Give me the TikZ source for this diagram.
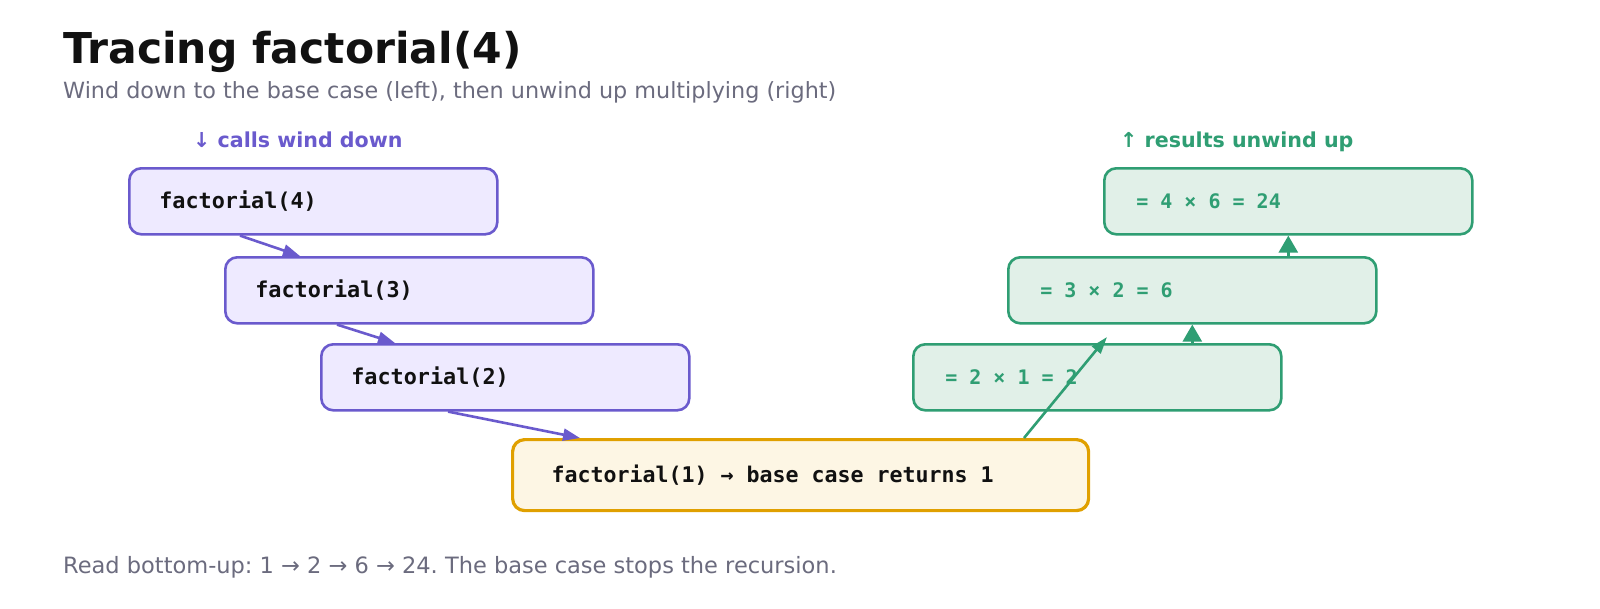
\documentclass[tikz,border=0pt]{standalone}
\usepackage{fontspec}
\setmainfont{DejaVu Sans}
\newfontfamily\mono{DejaVu Sans Mono}
\usetikzlibrary{arrows.meta}
\newcommand\msp{\hskip0.6021em\relax}
\definecolor{purp}{HTML}{6A5ACD}
\definecolor{purpfill}{HTML}{EEEAFF}
\definecolor{grn}{HTML}{2F9E73}
\definecolor{grnfill}{HTML}{E1F0E8}
\definecolor{gold}{HTML}{E0A000}
\definecolor{goldfill}{HTML}{FDF6E4}
\definecolor{ink}{HTML}{111111}
\definecolor{muted}{HTML}{6B6B7E}
\tikzset{
  box/.style={rectangle, rounded corners=12pt, line width=2.6pt, anchor=north west,
    minimum height=66pt, text width=308pt, inner xsep=30pt, inner ysep=0pt, align=left},
  callbox/.style={box, draw=purp, fill=purpfill, text=ink, font=\mono\bfseries\fontsize{21.8}{24}\selectfont},
  retbox/.style={box, draw=grn, fill=grnfill, text=grn, text width=304pt, inner xsep=32pt, font=\mono\bfseries\fontsize{20}{24}\selectfont},
  basebox/.style={box, draw=gold, fill=goldfill, text=ink, line width=3.2pt, minimum height=71pt,
    text width=498pt, inner xsep=39pt, font=\mono\bfseries\fontsize{21.6}{24}\selectfont},
  callarrow/.style={draw=purp, fill=purp, line width=2.6pt, -{Triangle[length=17pt,width=12pt]}},
  retarrow/.style={draw=grn, fill=grn, line width=2.6pt, -{Triangle[length=17pt,width=11pt]}},
  retarrowv/.style={draw=grn, fill=grn, line width=2.6pt, -{Triangle[length=17pt,width=19pt]}},
  heading/.style={anchor=base west, inner sep=0pt, font=\bfseries\fontsize{20.6}{24}\selectfont},
}
\begin{document}
\frenchspacing
\begin{tikzpicture}[x=1pt,y=-1pt]
\useasboundingbox[fill=white] (0,0) rectangle (1600,608);
\node[anchor=base west, inner sep=0pt, text=ink, font=\bfseries\fontsize{42.5}{48}\selectfont] (title) at (63,63) {Tracing factorial(4)};
\node[anchor=base west, inner sep=0pt, text=muted, font=\fontsize{22.3}{26}\selectfont] (sub) at (63,98) {Wind down to the base case (left), then unwind up multiplying (right)};
\node[heading, text=purp] (lcalls) at (193,147) {↓ calls wind down};
\node[heading, text=grn] (lres) at (1120,147) {↑ results unwind up};

\node[callbox] (f4) at (128,167) {factorial(4)};
\node[callbox] (f3) at (224,256) {factorial(3)};
\node[callbox] (f2) at (320,343) {factorial(2)};
\node[basebox] (base) at (511,438) {factorial(1)\msp →\msp base\msp case\msp returns\msp 1};

\node[retbox] (g4) at (1103,167) {=\msp 4\msp ×\msp 6\msp =\msp 24};
\node[retbox] (g3) at (1007,256) {=\msp 3\msp ×\msp 2\msp =\msp 6};
\node[retbox] (g2) at (912,343) {=\msp 2\msp ×\msp 1\msp =\msp 2};

\draw[callarrow] ([xshift=112pt]f4.south west) -- ([xshift=76pt]f3.north west);
\draw[callarrow] ([xshift=113pt]f3.south west) -- ([xshift=75pt]f2.north west);
\draw[callarrow] ([xshift=128pt]f2.south west) -- ([xshift=69pt]base.north west);

\coordinate (gtip) at (1107,337);
\draw[retarrow] ([xshift=513pt]base.north west) -- (gtip);
\draw[retarrowv] (g2.north -| g3.south) -- (g3.south);
\draw[retarrowv] (g3.north -| g4.south) -- (g4.south);

\node[anchor=base west, inner sep=0pt, text=muted, font=\fontsize{22.5}{26}\selectfont] (foot) at (63,573) {Read bottom-up: 1 → 2 → 6 → 24. The base case stops the recursion.};
\end{tikzpicture}
\end{document}
